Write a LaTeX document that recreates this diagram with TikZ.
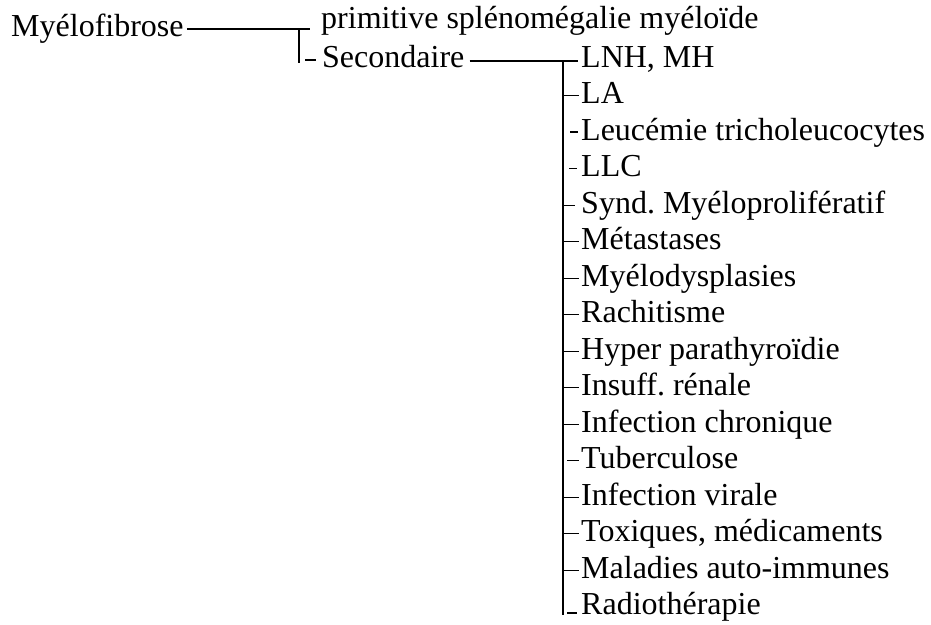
\documentclass[tikz,border=0pt]{standalone}
\usepackage{fontspec}
\setmainfont{Liberation Serif}
\frenchspacing
\begin{document}
\begin{tikzpicture}[x=1pt,y=-1pt,
  txt/.style={anchor=base west,inner sep=0pt,font=\fontsize{32}{34}\selectfont\frenchspacing},
  ln/.style={line width=1.2pt,black}]
\useasboundingbox (0,0) rectangle (931,624);
% top level
\node[txt] (root) at (11,36) {Myélofibrose};
\node[txt] (prim) at (321,28) {primitive splénomégalie myéloïde};
\node[txt] (sec) at (322,67) {Secondaire};
\coordinate (j1) at (299,29);
\coordinate (j1b) at (299,63);
\draw[ln] (root.east |- j1) ++(3,0) -- (310,29);
\draw[ln] (j1) -- (j1b);
\draw[ln] (305,60) -- (316,60);
% second level
\coordinate (j2) at (563,61);
\coordinate (j2b) at (563,615);
\draw[ln] (sec.east |- j2) ++(5,0) -- (578,61);
\draw[ln] (j2) -- (j2b);
\foreach \t [count=\i from 0] in {{LNH, MH},LA,Leucémie tricholeucocytes,LLC,
  Synd. Myéloprolifératif,Métastases,Myélodysplasies,Rachitisme,
  Hyper parathyroïdie,Insuff. rénale,Infection chronique,Tuberculose,
  Infection virale,{Toxiques, médicaments},Maladies auto-immunes,Radiothérapie}{
  \node[txt] (it\i) at (581,{67+36.53*\i}) {\t};
}
\foreach \i in {1,5,6,7,8,9,10,12,13,14}{
  \draw[ln] (j2 |- it\i.base) ++(0,-8) -- ++(16,0);
}
\draw[ln] (j2 |- it2.base) ++(7,-8) -- ++(8,0);
\draw[ln] (j2 |- it3.base) ++(6,-8) -- ++(8,0);
\draw[ln] (j2 |- it4.base) ++(0,-8) -- ++(12,0);
\draw[ln] (j2 |- it11.base) ++(4,-8) -- ++(12,0);
\draw[ln] (j2 |- it15.base) ++(4,-2) -- ++(10,0);
\end{tikzpicture}
\end{document}
